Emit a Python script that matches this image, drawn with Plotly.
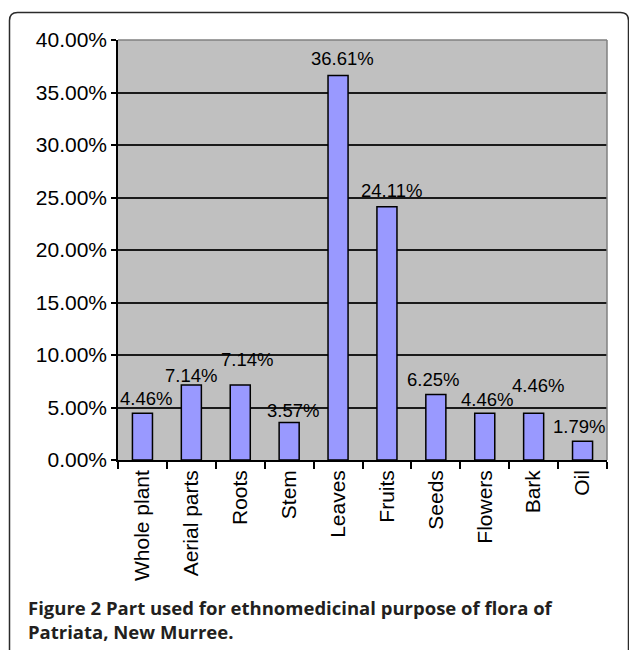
import plotly.graph_objects as go

# Plant parts used and their share of reported uses (%)
parts = ["Whole plant", "Aerial parts", "Roots", "Stem", "Leaves",
         "Fruits", "Seeds", "Flowers", "Bark", "Oil"]
share = [4.46, 7.14, 7.14, 3.57, 36.61, 24.11, 6.25, 4.46, 4.46, 1.79]

# y-axis ticks
y_ticks = [0, 5, 10, 15, 20, 25, 30, 35, 40]
y_tick_text = [f"{v:.2f}%" for v in y_ticks]

# Nudges (pixels) applied to each value label so they don't collide
label_dx = [4, 0, 7, 4, 4, 5, -3, 2, 4, -4]
label_dy = [15, 10, 26, 12.5, 17, 16, 14.5, 14, 28, 15]

W, H = 629, 650
L, R, T, B = 118, 607, 40, 460  # plot area in pixels


def px(x):
    return (x - L) / (R - L)


def py(y):
    return (B - y) / (B - T)


FONT = "Liberation Sans, Arial, sans-serif"

fig = go.Figure()
fig.add_trace(go.Bar(
    x=parts, y=share,
    marker=dict(color="#9999ff", line=dict(color="black", width=1.5)),
    hoverinfo="skip",
))

for name, v, dx, dy in zip(parts, share, label_dx, label_dy):
    fig.add_annotation(
        x=name, y=v, text=f"{v:.2f}%", showarrow=False,
        xanchor="center", yanchor="middle", xshift=dx, yshift=dy,
        font=dict(family=FONT, size=18.5, color="black"),
    )

# rounded outer frame around the figure
r = 8
x0, x1, y0, y1 = 9.5, 628.5, 12.5, 662
frame = (f"M {px(x0)},{py(y1)} L {px(x0)},{py(y0 + r)} "
         f"Q {px(x0)},{py(y0)} {px(x0 + r)},{py(y0)} "
         f"L {px(x1 - r)},{py(y0)} "
         f"Q {px(x1)},{py(y0)} {px(x1)},{py(y0 + r)} "
         f"L {px(x1)},{py(y1)}")
fig.add_shape(type="path", path=frame, xref="paper", yref="paper",
              line=dict(color="#2b2b2b", width=1.5))

# grey border on top and right of the plot area
fig.add_shape(type="line", xref="paper", yref="paper", x0=0, x1=1, y0=1, y1=1,
              line=dict(color="#808080", width=1.5), layer="above")
fig.add_shape(type="line", xref="paper", yref="paper", x0=1, x1=1, y0=0, y1=1,
              line=dict(color="#808080", width=1.5), layer="above")

CAP_FONT = "Open Sans, Noto Sans, sans-serif"
fig.add_annotation(
    xref="paper", yref="paper", x=px(26), y=py(607),
    xanchor="left", yanchor="middle", showarrow=False,
    text="<b>Figure 2</b> <b>Part used for ethnomedicinal purpose of flora of</b>",
    font=dict(family=CAP_FONT, size=18.5, color="#231f20"),
)
fig.add_annotation(
    xref="paper", yref="paper", x=px(26), y=py(631),
    xanchor="left", yanchor="middle", showarrow=False,
    text="<b>Patriata, New Murree.</b>",
    font=dict(family=CAP_FONT, size=18.5, color="#231f20"),
)

fig.update_layout(
    width=W, height=H,
    margin=dict(l=L, r=W - R, t=T, b=H - B, pad=0),
    paper_bgcolor="white", plot_bgcolor="#c0c0c0",
    bargap=0.59, showlegend=False,
    font=dict(family=FONT, color="black"),
)
fig.update_xaxes(
    type="category", showgrid=False, tickangle=-90,
    tickson="boundaries", ticks="outside", ticklen=7, tickwidth=1.5,
    tickcolor="black", showline=True, linecolor="black", linewidth=1.5,
    tickfont=dict(family=FONT, size=21, color="black"),
    fixedrange=True,
)
fig.update_yaxes(
    range=[0, 40], tickvals=y_ticks, ticktext=y_tick_text,
    showgrid=True, gridcolor="#1a1a1a", gridwidth=1.5, zeroline=False,
    ticks="outside", ticklen=5, tickwidth=1.5, tickcolor="black",
    showline=True, linecolor="black", linewidth=1.5,
    tickfont=dict(family=FONT, size=21, color="black"),
    fixedrange=True,
)

fig.write_html("out.html", config={"displayModeBar": False})
